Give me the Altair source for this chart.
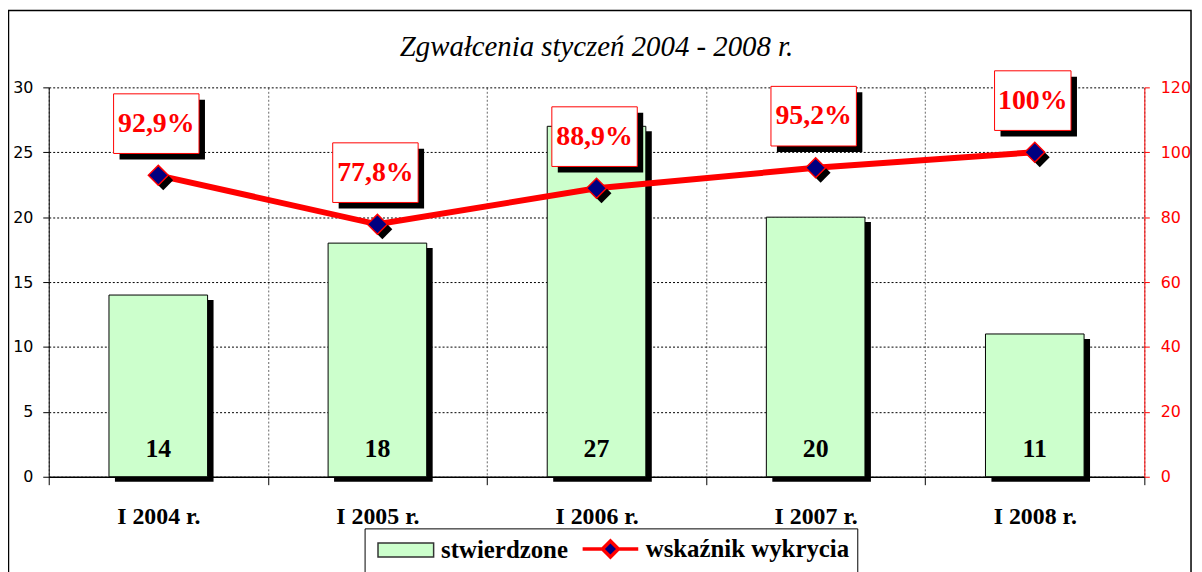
import altair as alt
import pandas as pd

# ---- data ----
categories = ["I 2004 r.", "I 2005 r.", "I 2006 r.", "I 2007 r.", "I 2008 r."]
stwierdzone = [14, 18, 27, 20, 11]
wskaznik = [92.9, 77.8, 88.9, 95.2, 100.0]
wskaznik_labels = ["92,9%", "77,8%", "88,9%", "95,2%", "100%"]
series_names = ["stwierdzone", "wskaźnik wykrycia"]
left_ticks = [0, 5, 10, 15, 20, 25, 30]
right_ticks = [0, 20, 40, 60, 80, 100, 120]
title_text = "Zgwałcenia styczeń 2004 - 2008 r."

df = pd.DataFrame({"kat": categories, "stw": stwierdzone,
                   "wsk": wskaznik, "lab": wskaznik_labels})
leg_df = pd.DataFrame({"series": series_names})

SERIF = "Liberation Serif"
SANS = "DejaVu Sans"
RED = "#FF0000"

# ---- scales & axes ----
xscale = alt.Scale(type="band", paddingInner=0, paddingOuter=0, domain=categories)
x_axis = alt.Axis(title=None, tickBand="extent", grid=True, gridColor="#666666",
                  gridDash=[2, 2], ticks=True, tickColor="black", tickSize=8,
                  domainColor="black", domainWidth=1.5, labelFont=SERIF,
                  labelFontSize=24, labelFontWeight="bold", labelColor="black",
                  labelPadding=20, labelAngle=0)
X = alt.X("kat:N", scale=xscale, axis=x_axis)

yl_scale = alt.Scale(domain=[0, 30], nice=False)
yl_axis = alt.Axis(title=None, values=left_ticks, grid=True, gridColor="black",
                   gridDash=[2, 2], tickColor="black", tickSize=6,
                   domainColor="black", labelFont=SANS, labelFontSize=16,
                   labelColor="black", labelPadding=10, orient="left")
yr_scale = alt.Scale(domain=[0, 120], nice=False)
yr_axis = alt.Axis(title=None, values=right_ticks, grid=False, orient="right",
                   domainColor=RED, tickColor=RED, tickSize=5, labelColor=RED,
                   labelFont=SANS, labelFontSize=16, labelPadding=11)

YL = alt.Y("stw:Q", scale=yl_scale, axis=yl_axis)
YR = alt.Y("wsk:Q", scale=yr_scale, axis=yr_axis)

base = alt.Chart(df)

# ---- frame ----
frame = alt.Chart(alt.Data(values=[{"a": 1}])).mark_rect(
    fillOpacity=0, stroke="black", strokeWidth=1.5
).encode(x=alt.value(-40.5), x2=alt.value(1150), y=alt.value(-77.5), y2=alt.value(600))

# ---- bars (left axis) ----
bar_w = alt.RelativeBandSize(0.45)
bar_shadow = base.mark_bar(color="black", width=bar_w, xOffset=6, yOffset=5).encode(
    x=X, y=YL)
bars = base.mark_bar(fill="#CCFFCC", stroke="black", strokeWidth=1, width=bar_w).encode(
    x=X, y=YL)
bar_text = base.mark_text(font=SERIF, fontSize=26, fontWeight="bold", color="black",
                          baseline="alphabetic", dy=-20).encode(
    x=X, y=alt.YDatum(0, scale=yl_scale, axis=yl_axis), text="stw:Q")

left = alt.layer(bar_shadow, bars, bar_text, frame)

# ---- line (right axis) ----
line = base.mark_line(color=RED, strokeWidth=6).encode(x=X, y=YR)
dia_shadow = base.mark_point(shape="diamond", size=400, filled=True, fill="black",
                             opacity=1, xOffset=5, yOffset=5).encode(x=X, y=YR)
dia = base.mark_point(shape="diamond", size=400, filled=True, fill="#000080",
                      stroke=RED, strokeWidth=1.5, opacity=1).encode(x=X, y=YR)

WIDE = "M-1,-0.698L1,-0.698L1,0.698L-1,0.698Z"
NARROW = "M-0.895,-0.698L0.895,-0.698L0.895,0.698L-0.895,0.698Z"
box_base = base.transform_calculate(
    box="length(datum.lab) > 4 ? '" + WIDE + "' : '" + NARROW + "'")
box_shadow = box_base.mark_point(filled=True, fill="black", size=7396, opacity=1,
                                 xOffset=4, yOffset=-46).encode(
    x=X, y=YR, shape=alt.Shape("box:N", scale=None))
boxes = box_base.mark_point(filled=True, fill="white", stroke=RED, strokeWidth=1,
                            size=7396, opacity=1, xOffset=-2, yOffset=-52).encode(
    x=X, y=YR, shape=alt.Shape("box:N", scale=None))
box_text = base.mark_text(font=SERIF, fontSize=28, fontWeight="bold", color=RED,
                          baseline="middle", dy=-52, dx=-2).encode(
    x=X, y=YR, text="lab:N")

# ---- legend ----
LEG = alt.Legend(title=None, orient="none", legendX=318, legendY=444,
                 direction="horizontal", strokeColor="black", fillColor="white",
                 padding=8, labelFont=SERIF, labelFontSize=25, labelFontWeight="bold",
                 labelColor="black", symbolSize=196, labelOffset=44,
                 columnPadding=7, labelLimit=400)
P_RECT = "M-1,-1L7,-1L7,1L-1,1Z"
P_LINE = "M-1,0L1.9,0M4.1,0L7,0M3,-1.15L4.15,0L3,1.15L1.85,0Z"
legend_layer = alt.Chart(leg_df).transform_filter("false").mark_point(
    filled=True, opacity=1).encode(
    fill=alt.Fill("series:N", scale=alt.Scale(domain=series_names, range=["#CCFFCC", "#000080"]), legend=LEG),
    stroke=alt.Stroke("series:N", scale=alt.Scale(domain=series_names, range=["#333333", RED]), legend=LEG),
    shape=alt.Shape("series:N", scale=alt.Scale(domain=series_names, range=[P_RECT, P_LINE]), legend=LEG),
    strokeWidth=alt.StrokeWidth("series:N", scale=alt.Scale(domain=series_names, range=[1.5, 3.5]), legend=LEG),
)

right = alt.layer(line, dia_shadow, dia, box_shadow, boxes, box_text, legend_layer)

chart = alt.layer(left, right).resolve_scale(y="independent").properties(
    width=1103, height=392,
    title=alt.TitleParams(title_text, font=SERIF, fontSize=29, fontStyle="italic",
                          fontWeight="normal", color="black", anchor="middle",
                          baseline="alphabetic", offset=0, dy=76, frame="group"),
    autosize=alt.AutoSizeParams(type="none"),
    padding={"left": 41, "top": 78, "right": 50, "bottom": 94},
).configure_view(stroke=None)

chart.save("out.html", embed_options={"renderer": "svg", "actions": False})
